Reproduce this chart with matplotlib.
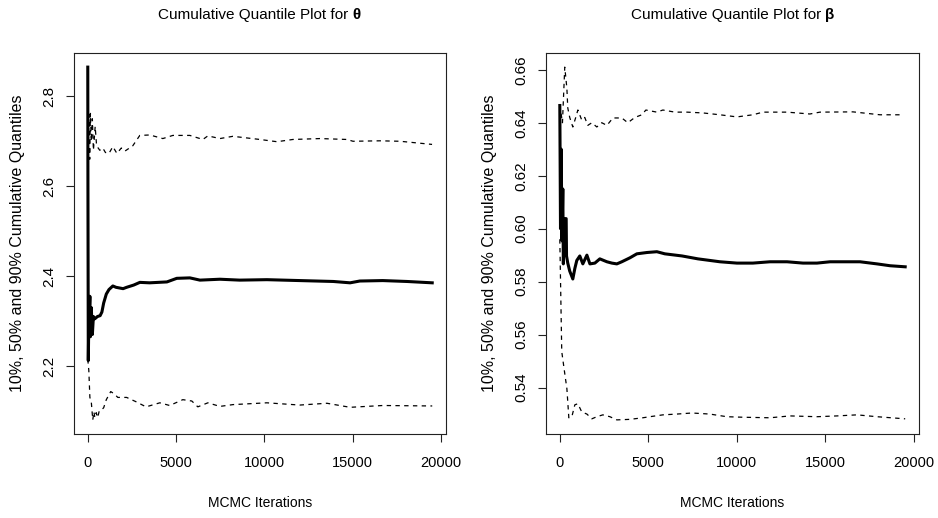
import numpy as np
import matplotlib
matplotlib.use("Agg")
import matplotlib.pyplot as plt

plt.rcParams['font.family'] = ['Liberation Sans', 'DejaVu Sans']

# ===== DATA =====
# theta panel
med_theta_it = [1, 10, 30, 60, 120, 150, 200, 260, 320, 400, 550, 700, 800, 900, 1050, 1200,
                1420, 1600, 2000, 2200, 2600, 2950, 3500, 4480, 5040, 5780, 6350, 7480, 8600,
                10140, 12000, 13900, 14850, 15400, 16700, 18070, 19500]
med_theta = [2.865, 2.60, 2.212, 2.30, 2.355, 2.265, 2.33, 2.27, 2.31, 2.305, 2.31, 2.312, 2.32,
             2.34, 2.36, 2.37, 2.378, 2.375, 2.372, 2.375, 2.38, 2.386, 2.385, 2.387, 2.395,
             2.396, 2.391, 2.393, 2.391, 2.392, 2.390, 2.388, 2.385, 2.389, 2.390, 2.388, 2.385]

hi_theta_it = [1, 15, 40, 70, 110, 150, 200, 260, 320, 420, 500, 680, 850, 1000, 1200, 1420,
               1650, 1900, 2100, 2550, 2946, 3513, 4250, 4816, 5779, 6516, 6800, 7479, 8216,
               9746, 10709, 11615, 13145, 14675, 15015, 16545, 17678, 19491]
hi_theta = [2.55, 2.81, 2.70, 2.76, 2.66, 2.762, 2.70, 2.75, 2.68, 2.733, 2.69, 2.68, 2.685,
            2.675, 2.673, 2.688, 2.673, 2.685, 2.678, 2.69, 2.713, 2.714, 2.706, 2.713, 2.713,
            2.704, 2.712, 2.706, 2.711, 2.704, 2.699, 2.704, 2.706, 2.704, 2.700, 2.701, 2.700,
            2.693]

lo_theta_it = [1, 60, 120, 200, 283, 350, 400, 480, 560, 650, 800, 900, 1050, 1300, 1500, 1700,
               2200, 2700, 3300, 4080, 4640, 5380, 5890, 6230, 6800, 7480, 8220, 10140, 12000,
               13540, 14850, 16700, 19500]
lo_theta = [2.215, 2.19, 2.13, 2.12, 2.08, 2.098, 2.085, 2.096, 2.085, 2.10, 2.103, 2.107, 2.125,
            2.143, 2.138, 2.13, 2.13, 2.121, 2.109, 2.118, 2.112, 2.125, 2.122, 2.109, 2.118,
            2.11, 2.114, 2.118, 2.113, 2.117, 2.108, 2.112, 2.111]

# beta panel
med_beta_it = [1, 40, 80, 120, 170, 200, 280, 360, 380, 450, 560, 735, 850, 960, 1130, 1300,
               1530, 1700, 1980, 2260, 2660, 2940, 3220, 3500, 3960, 4350, 4920, 5480, 5930,
               6900, 7800, 9040, 10000, 10900, 11870, 12830, 13730, 14520, 15260, 16950, 17910,
               18650, 19500]
med_beta = [0.6465, 0.600, 0.630, 0.5954, 0.615, 0.5867, 0.6038, 0.6038, 0.5897, 0.5870, 0.584,
            0.581, 0.585, 0.588, 0.5897, 0.5867, 0.590, 0.5867, 0.587, 0.5886, 0.5875, 0.587,
            0.5867, 0.5875, 0.589, 0.5905, 0.591, 0.5913, 0.5905, 0.5897, 0.5886, 0.5875, 0.587,
            0.587, 0.5875, 0.5875, 0.587, 0.587, 0.5875, 0.5875, 0.5867, 0.586, 0.5856]

hi_beta_it = [1, 150, 280, 400, 450, 560, 735, 900, 1020, 1240, 1410, 1580, 1810, 2090, 2370,
              2660, 3000, 3500, 3840, 4240, 4630, 4860, 5480, 5820, 6500, 7180, 8080, 9040,
              10000, 10900, 11470, 12830, 14120, 14690, 16550, 18080, 19380]
hi_beta = [0.6467, 0.640, 0.661, 0.653, 0.6456, 0.642, 0.6384, 0.642, 0.6448, 0.641, 0.642,
           0.639, 0.640, 0.6384, 0.640, 0.639, 0.6418, 0.6418, 0.640, 0.642, 0.643, 0.6448,
           0.644, 0.6448, 0.644, 0.644, 0.6437, 0.643, 0.6422, 0.643, 0.644, 0.644, 0.6433,
           0.644, 0.6441, 0.643, 0.643]

lo_beta_it = [1, 110, 280, 400, 510, 680, 850, 1020, 1240, 1530, 1810, 2090, 2430, 2830, 3220,
              3960, 4690, 5080, 5820, 6610, 7460, 8470, 9430, 10340, 11870, 13000, 14520, 15650,
              16780, 17910, 19500]
lo_beta = [0.596, 0.5536, 0.5453, 0.5396, 0.5286, 0.529, 0.5335, 0.5339, 0.5308, 0.530, 0.5282,
           0.529, 0.5297, 0.529, 0.5278, 0.528, 0.5286, 0.529, 0.5297, 0.530, 0.5304, 0.530,
           0.529, 0.5288, 0.5286, 0.5293, 0.529, 0.5293, 0.5297, 0.529, 0.5282]

x_ticks = [0, 5000, 10000, 15000, 20000]
theta_ticks = [2.2, 2.4, 2.6, 2.8]
theta_labels = ["2.2", "2.4", "2.6", "2.8"]
beta_ticks = [0.54, 0.56, 0.58, 0.60, 0.62, 0.64, 0.66]
beta_labels = ["0.54", "0.56", "0.58", "0.60", "0.62", "0.64", "0.66"]


def r_lim(*arrs):
    # R style axis range: data range plus 4% each side
    allv = np.concatenate([np.asarray(a, float) for a in arrs])
    lo, hi = allv.min(), allv.max()
    pad = 0.04 * (hi - lo)
    return lo - pad, hi + pad


def draw_panel(ax, series, yticks, ylabels, sym):
    (lo_it, lo), (md_it, md), (hi_it, hi) = series
    ax.plot(hi_it, hi, color="black", lw=0.9, ls=(0, (3.5, 3.5)))
    ax.plot(lo_it, lo, color="black", lw=0.9, ls=(0, (3.5, 3.5)))
    ax.plot(md_it, md, color="black", lw=2.2, solid_joinstyle="round")

    ax.set_xlim(r_lim(lo_it, md_it, hi_it))
    ax.set_ylim(r_lim(lo, md, hi))
    ax.set_xticks(x_ticks)
    ax.set_xticklabels([str(t) for t in x_ticks], fontsize=10.5)
    ax.set_yticks(yticks)
    ax.set_yticklabels(ylabels, rotation=90, va="center", fontsize=11)
    ax.tick_params(length=6, width=0.8, color="#222222")
    ax.tick_params(axis="x", pad=10)
    ax.tick_params(axis="y", pad=7)
    for s in ax.spines.values():
        s.set_linewidth(0.8)
        s.set_color("#222222")

    ax.set_xlabel("MCMC Iterations", fontsize=10)
    ax.xaxis.set_label_coords(0.5, -0.163)
    ax.set_ylabel("10%, 50% and 90% Cumulative Quantiles", fontsize=11.5)
    ax.yaxis.set_label_coords(-0.132, 0.5)

    t1 = ax.text(0.488, 1.10, "Cumulative Quantile Plot for ", transform=ax.transAxes,
                 ha="center", va="center", fontsize=11)
    ax.annotate(sym, xy=(1, 0), xycoords=t1, va="bottom", ha="left",
                fontsize=11, fontweight="bold")


# ===== PLOT =====
fig = plt.figure(figsize=(9.38, 5.18), dpi=100)
ax1 = fig.add_axes([74 / 938, 1 - 434 / 518, 372 / 938, 381 / 518])
ax2 = fig.add_axes([546 / 938, 1 - 434 / 518, 373 / 938, 381 / 518])

draw_panel(ax1, [(lo_theta_it, lo_theta), (med_theta_it, med_theta), (hi_theta_it, hi_theta)],
           theta_ticks, theta_labels, "θ")
draw_panel(ax2, [(lo_beta_it, lo_beta), (med_beta_it, med_beta), (hi_beta_it, hi_beta)],
           beta_ticks, beta_labels, "β")

fig.savefig("out.png", dpi=100)
